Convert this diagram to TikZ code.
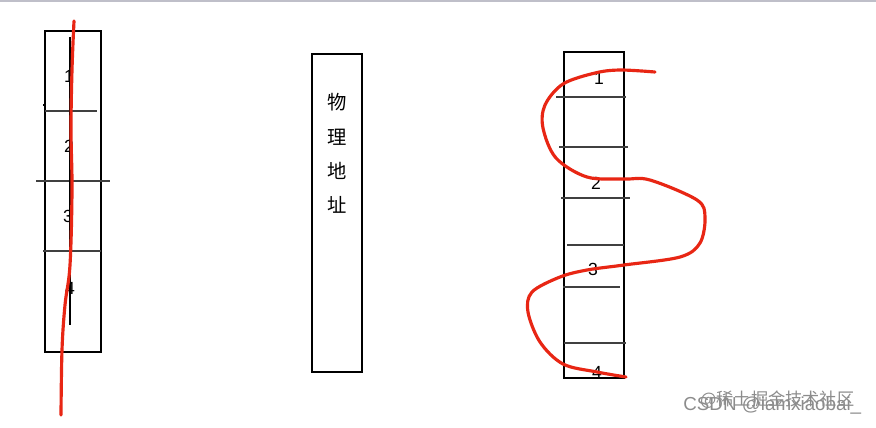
\documentclass[tikz,border=0pt]{standalone}
\usepackage{fontspec}
\setmainfont{Liberation Sans}
\newfontfamily\cjk{Noto Sans CJK SC}
\usepackage{tikz}

\begin{document}
\begin{tikzpicture}[x=0.02cm, y=-0.02cm,
        box/.style={draw=black, line width=0.6pt},
        sep/.style={draw=black!75, line width=0.6pt},
        num/.style={font=\fontsize{10pt}{10pt}\selectfont, inner sep=0pt},
        han/.style={font=\cjk\fontsize{11pt}{11pt}\selectfont, inner sep=0pt},
        redline/.style={draw={rgb,255:red,232;green,38;blue,20}, line width=1.8pt, line cap=round, line join=round},
        wmark/.style={text=black!45, inner sep=0pt}]
        \useasboundingbox (0,0) rectangle (876,427);
        \fill[white] (0,0) rectangle (876,427);
        \draw[line width=1.2pt, blue!15!black!25] (0,1) -- (876,1);

        % left column
        \draw[box] (45,31) rectangle (101,352);
        \draw[sep] (45,111) -- (97,111);
        \draw[sep] (36,181) -- (110,181);
        \draw[sep] (43,251) -- (101,251);
        \draw[box] (70,37) -- (70,325);
        \draw[box] (44,104) -- (44,106);
        \node[num] (l1) at (69,76) {1};
        \node[num] (l2) at (69,146) {2};
        \node[num] (l3) at (68,216) {3};
        \node[num] (l4) at (70,288) {4};
        \draw[redline] plot[smooth, tension=0.6] coordinates {(74,21) (72,70) (71,130) (72,190) (70,265) (65,305) (62,350) (61,415)};

        % middle column
        \draw[box] (312,54) rectangle (362,372);
        \node[han] (c1) at (337,102) {物};
        \node[han] (c2) at (337,137) {理};
        \node[han] (c3) at (337,171) {地};
        \node[han] (c4) at (337,205) {址};

        % right column
        \draw[box] (564,52) rectangle (624,378);
        \draw[sep] (556,97) -- (626,97);
        \draw[sep] (559,147) -- (628,147);
        \draw[sep] (561,198) -- (630,198);
        \draw[sep] (567,245) -- (624,245);
        \draw[sep] (563,287) -- (620,287);
        \draw[sep] (564,343) -- (626,343);
        \node[num] (r1) at (599,78) {1};
        \node[num] (r2) at (596,183) {2};
        \node[num] (r3) at (593,269) {3};
        \node[num] (r4) at (597,372) {4};
        \draw[redline] plot[smooth, tension=0.55] coordinates {(655,72) (620,70) (595,73) (563,84) (545,105) (543,128) (556,158) (587,177) (624,179) (650,180) (697,200) (705,217) (700,243) (680,257) (624,265) (587,270) (560,277) (532,292) (528,312) (540,342) (563,364) (597,372) (626,377)};

        % watermark
        \node[wmark, font=\cjk\fontsize{9.8pt}{9.8pt}\selectfont, anchor=west] (wm1) at (700,400) {@稀土掘金技术社区};
        \node[wmark, font=\fontsize{10.7pt}{10.7pt}\selectfont, anchor=west] (wm2) at (683,406) {CSDN @iamxiaobai\_};
    \end{tikzpicture}
\end{document}
